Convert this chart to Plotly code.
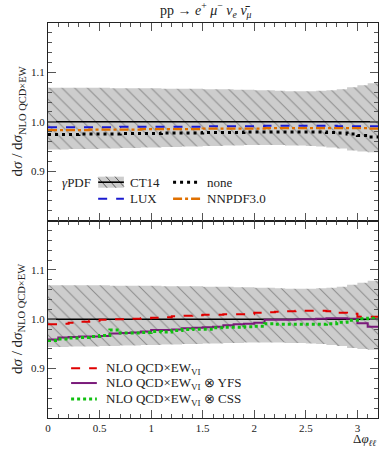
import plotly.graph_objects as go

# bins in delta phi (ll)
bin_edges = [0.0, 0.1, 0.2, 0.3, 0.4, 0.5, 0.6, 0.7, 0.8, 0.9, 1.0, 1.1, 1.2, 1.3, 1.4, 1.5, 1.6,
             1.7, 1.8, 1.9, 2.0, 2.1, 2.2, 2.3, 2.4, 2.5, 2.6, 2.7, 2.8, 2.9, 3.0, 3.1, 3.2]

# CT14 PDF uncertainty band (ratio), same in both panels
ct14_up = [1.069, 1.069, 1.069, 1.069, 1.069, 1.069, 1.068, 1.068, 1.068, 1.068, 1.068, 1.067,
           1.067, 1.067, 1.067, 1.066, 1.066, 1.066, 1.065, 1.065, 1.064, 1.064, 1.063, 1.062,
           1.062, 1.062, 1.063, 1.064, 1.066, 1.070, 1.074, 1.078]
ct14_dn = [0.944, 0.944, 0.945, 0.945, 0.945, 0.946, 0.946, 0.947, 0.947, 0.948, 0.948, 0.949,
           0.949, 0.950, 0.950, 0.951, 0.951, 0.952, 0.952, 0.953, 0.953, 0.953, 0.953, 0.952,
           0.952, 0.951, 0.950, 0.948, 0.946, 0.942, 0.940, 0.938]
ct14_ratio = [1.000] * 32

# top panel: photon PDF variations
lux = [0.989, 0.989, 0.989, 0.989, 0.989, 0.989, 0.989, 0.990, 0.990, 0.990, 0.990, 0.990,
       0.990, 0.990, 0.990, 0.991, 0.991, 0.991, 0.991, 0.991, 0.991, 0.992, 0.992, 0.992,
       0.992, 0.992, 0.992, 0.992, 0.991, 0.991, 0.991, 0.991]
nnpdf = [0.983, 0.983, 0.983, 0.983, 0.984, 0.984, 0.984, 0.984, 0.984, 0.985, 0.985, 0.985,
         0.985, 0.985, 0.985, 0.986, 0.986, 0.986, 0.986, 0.986, 0.986, 0.987, 0.987, 0.987,
         0.987, 0.987, 0.987, 0.987, 0.987, 0.987, 0.987, 0.986]
none = [0.974, 0.974, 0.974, 0.975, 0.975, 0.975, 0.975, 0.976, 0.976, 0.976, 0.976, 0.977,
        0.977, 0.977, 0.977, 0.978, 0.978, 0.978, 0.978, 0.979, 0.979, 0.979, 0.979, 0.979,
        0.979, 0.979, 0.979, 0.978, 0.977, 0.975, 0.972, 0.969]

# bottom panel: EW corrections
ew_vi = [0.990, 0.991, 0.993, 0.995, 0.997, 0.999, 1.000, 1.000, 1.001, 1.002, 1.003, 1.004,
         1.006, 1.007, 1.008, 1.009, 1.009, 1.010, 1.010, 1.010, 1.013, 1.014, 1.015, 1.016,
         1.017, 1.017, 1.017, 1.016, 1.013, 1.011, 1.005, 1.005]
ew_yfs = [0.959, 0.963, 0.964, 0.965, 0.965, 0.966, 0.971, 0.972, 0.973, 0.975, 0.978, 0.978,
          0.979, 0.982, 0.983, 0.984, 0.985, 0.988, 0.990, 0.991, 0.993, 0.999, 0.999, 0.999,
          1.000, 1.000, 1.001, 1.002, 1.002, 1.001, 0.992, 0.985]
ew_css = [0.957, 0.960, 0.962, 0.963, 0.965, 0.967, 0.978, 0.972, 0.972, 0.973, 0.975, 0.974,
          0.977, 0.979, 0.980, 0.980, 0.983, 0.984, 0.984, 0.985, 0.986, 0.991, 0.990, 0.990,
          0.990, 0.990, 0.990, 0.991, 0.994, 0.998, 1.001, 1.002]

FONT = "Liberation Serif"
BLUE, ORANGE, RED, PURPLE, GREEN = "#1a1ad0", "#e07000", "#e00000", "#7a1a7a", "#10c010"


def steps(vals):
    # histogram line: value repeated for the last edge, drawn with hv shape
    return list(vals) + [vals[-1]]


fig = go.Figure()

for xa, ya in (("x2", "y2"), ("x", "y")):
    fig.add_trace(go.Scatter(x=bin_edges, y=steps(ct14_dn), xaxis=xa, yaxis=ya, mode="lines",
                             line=dict(width=0, shape="hv"), showlegend=False, hoverinfo="skip"))
    fig.add_trace(go.Scatter(x=bin_edges, y=steps(ct14_up), xaxis=xa, yaxis=ya, mode="lines",
                             line=dict(width=0, shape="hv"), fill="tonexty",
                             fillpattern=dict(shape="\\", bgcolor="#cdcdcd", fgcolor="#4a4a4a",
                                              size=9, solidity=0.11),
                             showlegend=False))
    fig.add_trace(go.Scatter(x=bin_edges, y=steps(ct14_ratio), xaxis=xa, yaxis=ya, mode="lines",
                             line=dict(color="black", width=1.6, shape="hv"), showlegend=False))

top = [(lux, BLUE, "dash", 2), (nnpdf, ORANGE, "dashdot", 2.4), (none, "black", "3px,4px", 3)]
for vals, col, dash, w in top:
    fig.add_trace(go.Scatter(x=bin_edges, y=steps(vals), xaxis="x2", yaxis="y2", mode="lines",
                             line=dict(color=col, width=w, dash=dash, shape="hv"),
                             showlegend=False))

bottom = [(ew_vi, RED, "dash", 2), (ew_yfs, PURPLE, "solid", 2), (ew_css, GREEN, "3px,3px", 3)]
for vals, col, dash, w in bottom:
    fig.add_trace(go.Scatter(x=bin_edges, y=steps(vals), xaxis="x", yaxis="y", mode="lines",
                             line=dict(color=col, width=w, dash=dash, shape="hv"),
                             showlegend=False))

axis_common = dict(showline=True, linecolor="#222", linewidth=1, mirror="allticks",
                   ticks="inside", ticklen=8, tickwidth=1, tickcolor="#555",
                   showgrid=False, zeroline=False,
                   tickfont=dict(family=FONT, size=11, color="#222"))
xcommon = dict(axis_common, range=[0, 3.2], dtick=0.5, tick0=0,
               minor=dict(dtick=0.1, ticks="inside", ticklen=4, tickcolor="#555"))
ycommon = dict(axis_common, range=[0.8, 1.2], tickvals=[0.8, 0.9, 1.0, 1.1, 1.2],
               ticktext=["", "0.9", "1.0", "1.1", ""],
               minor=dict(dtick=0.02, tick0=0.8, ticks="inside", ticklen=4, tickcolor="#555"))

fig.update_layout(
    width=390, height=451,
    margin=dict(l=48, r=12, t=23, b=33, autoexpand=False),
    paper_bgcolor="white", plot_bgcolor="white",
    font=dict(family=FONT, color="#222"),
    xaxis=dict(xcommon, anchor="y", domain=[0, 1]),
    yaxis=dict(ycommon, anchor="x", domain=[0, 0.5]),
    xaxis2=dict(xcommon, anchor="y2", domain=[0, 1], showticklabels=False, matches="x"),
    yaxis2=dict(ycommon, anchor="x2", domain=[0.5, 1]),
    showlegend=False,
)

ann = []
ytitle = "d<i>σ</i> / d<i>σ</i><sub>NLO QCD×EW</sub>"
for yc in (0.7506, 0.2506):
    ann.append(dict(text=ytitle, xref="paper", yref="paper", x=-0.091, y=yc, textangle=-90,
                    showarrow=False, xanchor="center", yanchor="middle",
                    font=dict(family=FONT, size=15, color="#222")))
ann.append(dict(text="pp → <i>e</i><sup>+</sup> <i>μ</i><sup>−</sup> <i>ν<sub>e</sub></i> "
                     "<i>ν̄<sub>μ</sub></i>",
                xref="paper", yref="paper", x=0.48, y=1.033, showarrow=False,
                xanchor="center", yanchor="middle", font=dict(family=FONT, size=14, color="#222")))
ann.append(dict(text="Δ<i>φ</i><sub><i>ℓℓ</i></sub>", xref="paper", yref="paper", x=1.0,
                y=-0.082, showarrow=False, xanchor="right", yanchor="bottom",
                font=dict(family=FONT, size=13, color="#222")))

shapes = []


def legend_line(xr, yr, x0, x1, yy, col, dash, w):
    shapes.append(dict(type="line", xref=xr, yref=yr, x0=x0, x1=x1, y0=yy, y1=yy,
                       line=dict(color=col, dash=dash, width=w)))


def legend_text(xr, yr, x, yy, text):
    ann.append(dict(text=text, xref=xr, yref=yr, x=x, y=yy, showarrow=False,
                    xanchor="left", yanchor="middle", font=dict(family=FONT, size=13, color="#222")))


# top legend (domain coords of top panel)
xr, yr = "x2 domain", "y2 domain"
r1, r2 = 0.194, 0.110
legend_text(xr, yr, 0.036, r1, "<i>γ</i>PDF")
# hatched CT14 swatch
hx0, hx1, hh = 0.152, 0.230, 0.028
shapes.append(dict(type="rect", xref=xr, yref=yr, x0=hx0, x1=hx1, y0=r1 - hh, y1=r1 + hh,
                   fillcolor="#cdcdcd", line=dict(width=0)))
hp = ""
xs = hx0 - 0.03
while xs < hx1:
    a0, a1 = xs, xs + 0.03
    b0, b1 = r1 + hh, r1 - hh
    # clip to swatch
    if a0 < hx0:
        b0 = b0 - (hx0 - a0) / 0.03 * 2 * hh
        a0 = hx0
    if a1 > hx1:
        b1 = b1 + (a1 - hx1) / 0.03 * 2 * hh
        a1 = hx1
    hp += f"M{a0:.4f},{b0:.4f} L{a1:.4f},{b1:.4f} "
    xs += 0.027
shapes.append(dict(type="path", xref=xr, yref=yr, path=hp, line=dict(color="#5a5a5a", width=1)))
legend_line(xr, yr, hx0, hx1, r1, "black", "solid", 1.6)
legend_text(xr, yr, 0.242, r1, "CT14")
legend_line(xr, yr, 0.379, 0.461, r1, "black", "3px,4px", 3)
legend_text(xr, yr, 0.476, r1, "none")
legend_line(xr, yr, 0.152, 0.230, r2, BLUE, "dash", 2)
legend_text(xr, yr, 0.242, r2, "LUX")
legend_line(xr, yr, 0.379, 0.461, r2, ORANGE, "dashdot", 2.4)
legend_text(xr, yr, 0.476, r2, "NNPDF3.0")

# bottom legend
xr, yr = "x domain", "y domain"
lab = "NLO QCD×EW<sub>VI</sub>"
legend_line(xr, yr, 0.070, 0.148, 0.2525, RED, "dash", 2)
legend_text(xr, yr, 0.170, 0.2525, lab)
legend_line(xr, yr, 0.070, 0.148, 0.177, PURPLE, "solid", 2)
legend_text(xr, yr, 0.170, 0.177, lab + " ⊗ YFS")
legend_line(xr, yr, 0.070, 0.148, 0.096, GREEN, "3px,3px", 3)
legend_text(xr, yr, 0.170, 0.096, lab + " ⊗ CSS")

fig.update_layout(annotations=ann, shapes=shapes)

# the page body has a default 8px margin; drop it so the figure fills the window
fig.write_html("out.html", config={"displayModeBar": False},
               post_script="document.body.style.margin='0';")
